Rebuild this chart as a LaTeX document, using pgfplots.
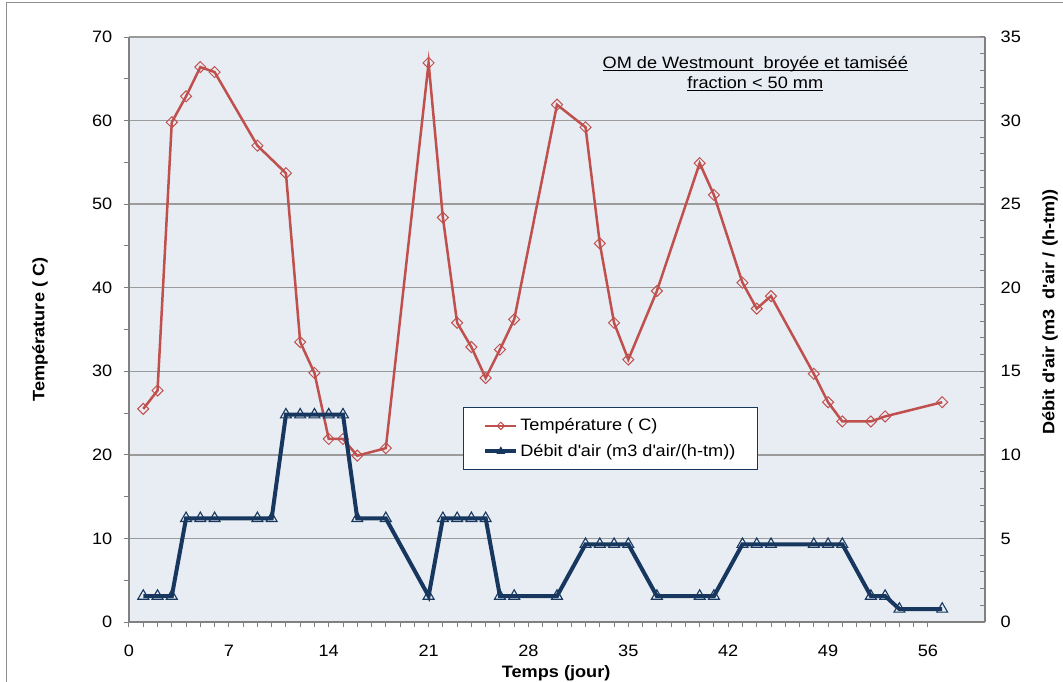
\documentclass[border=0pt]{standalone}
\usepackage{pgfplots}
\pgfplotsset{compat=1.18}
\usepackage{pgfplotstable}
\usepackage{fontspec}
\setmainfont[FakeStretch=1.1]{Liberation Sans}

\definecolor{tempred}{RGB}{192,80,77}
\definecolor{airblue}{RGB}{23,55,94}
\definecolor{plotbg}{RGB}{232,236,243}
\definecolor{gridgray}{RGB}{155,155,155}
\definecolor{axisgray}{RGB}{128,128,128}

\newcommand{\ul}[1]{\underline{\smash{#1}}}
\newcommand{\chartfont}{\fontsize{16.5bp}{20bp}\selectfont}
\newcommand{\q}{\textquotesingle}

% temperature (left axis)
\pgfplotstableread{
day temp
1 25.5
2 27.7
3 59.8
4 62.9
5 66.4
6 65.8
9 57.0
11 53.7
12 33.5
13 29.8
14 21.9
15 21.9
16 19.9
18 20.8
21 66.9
22 48.4
23 35.8
24 32.9
25 29.2
26 32.6
27 36.2
30 61.9
32 59.2
33 45.3
34 35.8
35 31.4
37 39.6
40 54.9
41 51.1
43 40.6
44 37.5
45 39.0
48 29.7
49 26.3
50 24.0
52 24.0
53 24.6
57 26.3
}\temptable

% air flow (right axis)
\pgfplotstableread{
day air
1 1.55
2 1.55
3 1.55
4 6.2
5 6.2
6 6.2
9 6.2
10 6.2
11 12.4
12 12.4
13 12.4
14 12.4
15 12.4
16 6.2
18 6.2
21 1.55
22 6.2
23 6.2
24 6.2
25 6.2
26 1.55
27 1.55
30 1.55
32 4.65
33 4.65
34 4.65
35 4.65
37 1.55
40 1.55
41 1.55
43 4.65
44 4.65
45 4.65
48 4.65
49 4.65
50 4.65
52 1.55
53 1.55
54 0.775
57 0.775
}\airtable

\pgfplotsset{
  common/.style={
    at={(0,0)}, anchor=south west,
    scale only axis, width=856bp, height=585bp,
    xmin=0, xmax=60,
    /pgf/number format/assume math mode=true,
    tick label style={font=\chartfont},
    label style={font=\chartfont\bfseries},
    axis line style={axisgray, line width=2bp},
    tick style={axisgray, line width=1bp},
    major tick length=5bp, minor tick length=5bp,
  },
}

\begin{document}
\chartfont
\begin{tikzpicture}
\path[use as bounding box] (-129bp,-60bp) rectangle (934bp,622bp);
\draw[axisgray!90, line width=1bp] (-122bp,-90bp) rectangle (960bp,619bp);

\begin{axis}[
  common,
  ymin=0, ymax=70,
  axis x line*=bottom, axis y line*=left,
  tick align=outside,
  xtick={0,7,...,56}, minor x tick num=6,
  ytick={0,10,...,70}, minor y tick num=1,
  ymajorgrids, grid style={gridgray, line width=1.3bp},
  axis background/.style={fill=plotbg},
  xticklabel style={yshift=-12bp},
  yticklabel style={xshift=-6bp},
  xlabel={Temps (jour)},
  xlabel style={at={(axis description cs:0.499,-0.087)}, anchor=center},
  ylabel={Température ( C)},
  ylabel style={at={(axis description cs:-0.104,0.5)}, anchor=center},
]
\addplot[tempred, line width=2.5bp, mark=square,
  mark size=3.9bp, mark options={solid, rotate=45, line width=1bp}]
  table[x=day, y=temp]{\temptable};
\node[align=center, font=\chartfont]
  at (axis cs:43.9,64.9)
  {\ul{OM de Westmount\ \ broyée et tamiséé}\\\ul{fraction < 50 mm}};
\end{axis}

\begin{axis}[
  common,
  ymin=0, ymax=35,
  axis x line=none, axis y line*=right,
  tick align=inside,
  ytick={0,5,...,35}, minor y tick num=4,
  yticklabel style={xshift=10bp},
  ylabel={Débit d\q air (m3\ \ d\q air / (h-tm))},
  ylabel style={at={(axis description cs:1.076,0.53)}, anchor=center},
  legend cell align=left,
  legend image code/.code={
    \draw[mark repeat=2, mark phase=2, #1]
      plot coordinates {(0bp,0bp) (15.5bp,0bp) (31bp,0bp)};},
  legend style={at={(axis description cs:0.390,0.3675)}, anchor=north west,
    draw=airblue, line width=1bp, fill=white,
    font=\chartfont,
    inner xsep=20bp, inner ysep=9bp, row sep=7bp},
]
\addlegendimage{tempred, line width=2bp, mark=square,
  mark size=2.6bp, mark options={solid, rotate=45, line width=1bp}}
\addlegendentry{Température ( C)}
\addplot[airblue, line width=4bp, mark=triangle,
  mark size=6.3bp, mark options={solid, line width=1.1bp},
  legend image post style={mark size=4bp}]
  table[x=day, y=air]{\airtable};
\addlegendentry{Débit d\q air (m3 d\q air/(h-tm))}
\end{axis}
\end{tikzpicture}
\end{document}
